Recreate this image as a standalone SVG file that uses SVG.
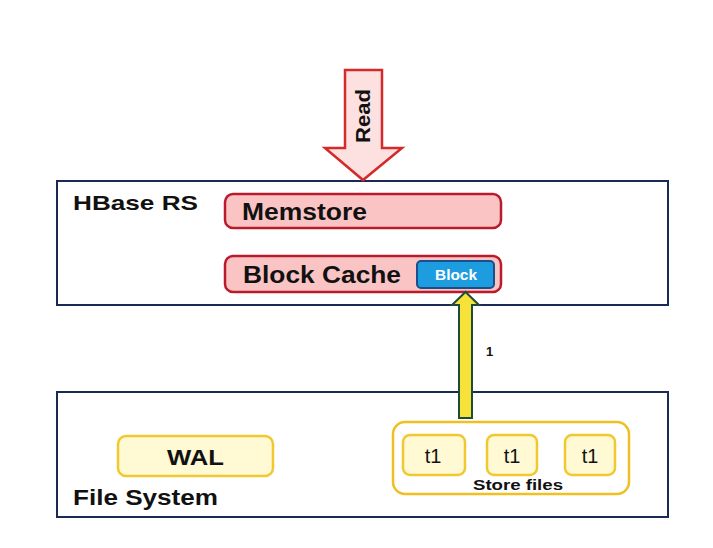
<svg xmlns="http://www.w3.org/2000/svg" width="713" height="548" viewBox="0 0 713 548">
<style>
.lbl{font-family:"Liberation Sans",Arial,sans-serif;font-weight:bold;fill:#111;}
.box{fill:#fff;stroke:#1a2a55;stroke-width:2;}
.pink{fill:#fbc4c4;stroke:#b81c2c;stroke-width:2.5;}
.yel{fill:#fff9d4;stroke:#f0c830;stroke-width:2.5;}
</style>
<rect width="713" height="548" fill="#fff"/>
<g id="hbase-rs">
<rect class="box" x="57" y="181" width="611" height="124"/>
<text class="lbl" x="73" y="210" font-size="21" textLength="125" lengthAdjust="spacingAndGlyphs">HBase RS</text>
</g>
<g id="file-system">
<rect class="box" x="57" y="392" width="611" height="125"/>
<text class="lbl" x="73" y="505" font-size="22" textLength="145" lengthAdjust="spacingAndGlyphs">File System</text>
</g>
<g id="memstore">
<rect class="pink" x="225" y="194" width="276" height="34" rx="8"/>
<text class="lbl" x="242" y="220" font-size="23" textLength="125" lengthAdjust="spacingAndGlyphs">Memstore</text>
</g>
<g id="block-cache">
<rect class="pink" x="225" y="256" width="276" height="36" rx="8"/>
<text class="lbl" x="243" y="283" font-size="23" textLength="158" lengthAdjust="spacingAndGlyphs">Block Cache</text>
</g>
<g id="block">
<rect x="417" y="261" width="77" height="27" rx="4" fill="#1e9ce0" stroke="#1a4f8a" stroke-width="2"/>
<text x="456" y="279.5" font-size="14" text-anchor="middle" textLength="42" lengthAdjust="spacingAndGlyphs" font-family="Liberation Sans,Arial,sans-serif" font-weight="bold" fill="#fff">Block</text>
</g>
<g id="wal">
<rect class="yel" x="118" y="436" width="155" height="40" rx="8"/>
<text class="lbl" x="195.5" y="465" font-size="22" text-anchor="middle" textLength="57" lengthAdjust="spacingAndGlyphs">WAL</text>
</g>
<g id="store-files">
<rect x="393" y="422" width="236" height="72" rx="12" fill="#fff" stroke="#f0c020" stroke-width="2.5"/>
<text class="lbl" x="518" y="490" font-size="15" text-anchor="middle" textLength="90" lengthAdjust="spacingAndGlyphs">Store files</text>
</g>
<g id="t1-a">
<rect class="yel" x="403" y="435" width="62" height="40" rx="7"/>
<text x="433" y="463" font-size="20" text-anchor="middle" font-family="Liberation Sans,Arial,sans-serif" fill="#111">t1</text>
</g>
<g id="t1-b">
<rect class="yel" x="487" y="435" width="50" height="40" rx="7"/>
<text x="512" y="463" font-size="20" text-anchor="middle" font-family="Liberation Sans,Arial,sans-serif" fill="#111">t1</text>
</g>
<g id="t1-c">
<rect class="yel" x="565" y="435" width="50" height="40" rx="7"/>
<text x="590" y="463" font-size="20" text-anchor="middle" font-family="Liberation Sans,Arial,sans-serif" fill="#111">t1</text>
</g>
<g id="connectors">
<g id="read-arrow">
<polygon points="345,70 382,70 382,148 402,148 363,180 325,148 345,148" fill="#fde0e0" stroke="#d42a2a" stroke-width="2.5"/>
<text class="lbl" font-size="21" text-anchor="middle" textLength="54" lengthAdjust="spacingAndGlyphs" transform="translate(370,116) rotate(-90)">Read</text>
</g>
<g id="fetch-arrow">
<polygon points="459,418 459,305 452,305 465.5,292 479,305 472,305 472,418" fill="#f7e23a" stroke="#1d4d3a" stroke-width="2"/>
<text class="lbl" x="486" y="356" font-size="13">1</text>
</g>
</g>
</svg>
